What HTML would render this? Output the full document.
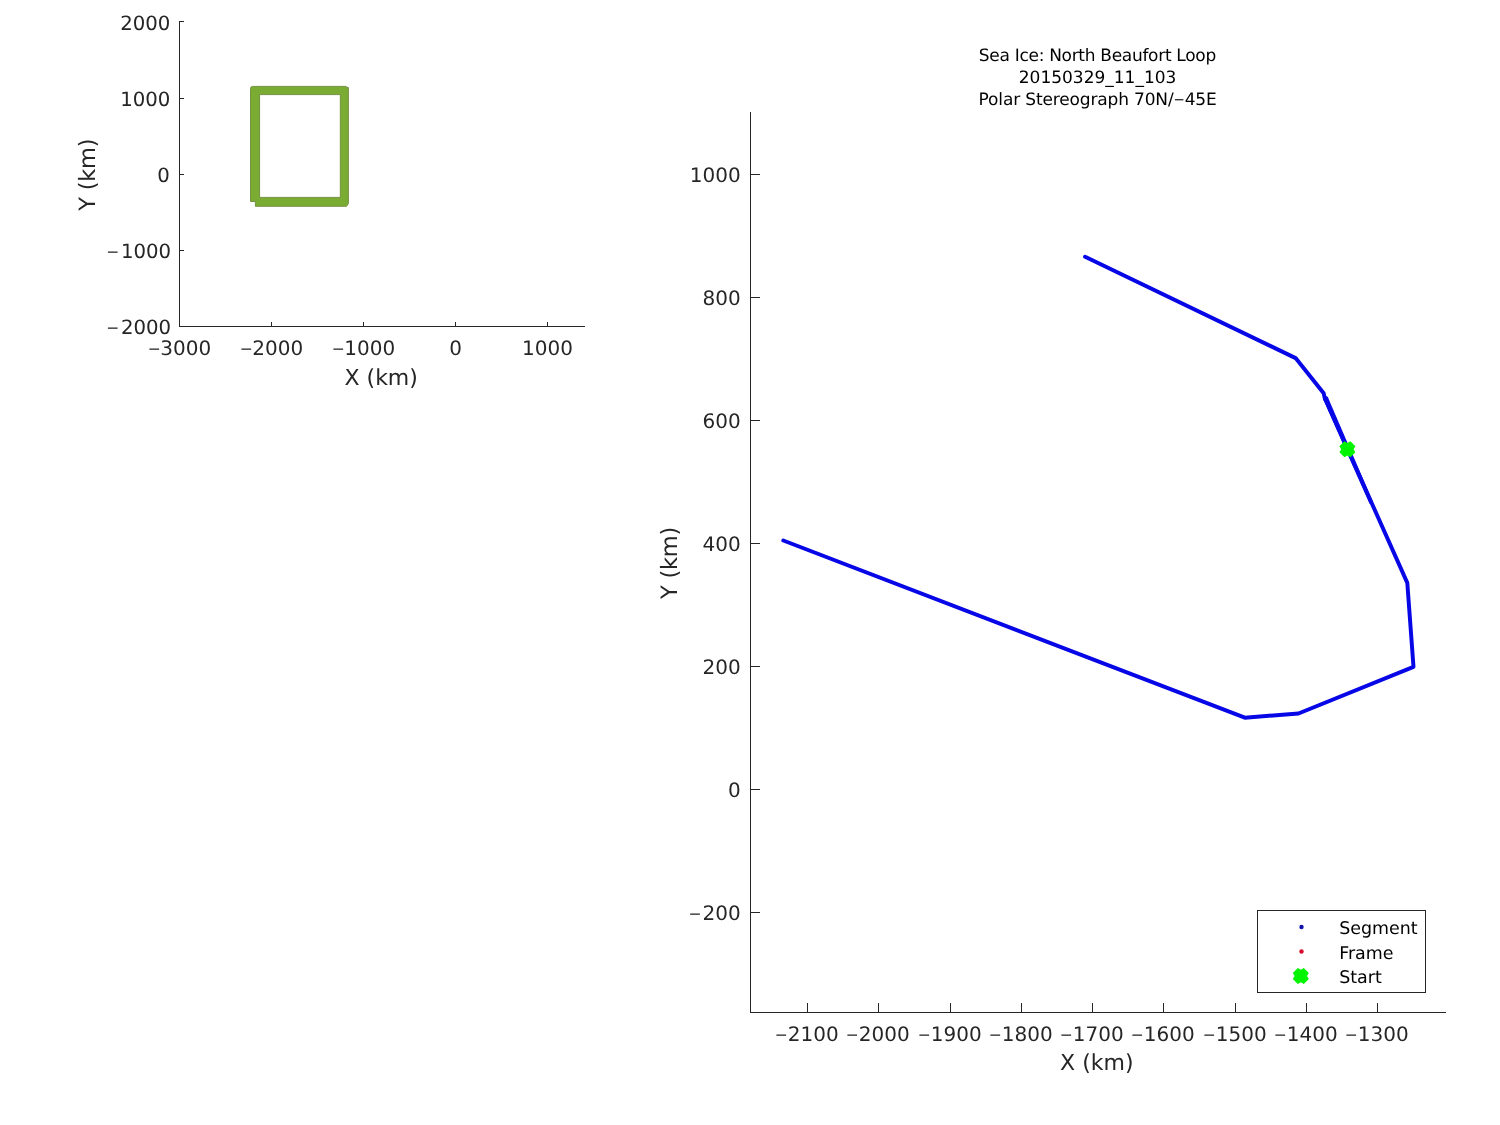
<!DOCTYPE html>
<html lang="en"><head><meta charset="utf-8"><title>Sea Ice: North Beaufort Loop</title>
<style>html,body{margin:0;padding:0;background:#fff;}body{width:1500px;height:1125px;overflow:hidden;}svg{display:block;}text{text-rendering:geometricPrecision;font-family:"DejaVu Sans","Liberation Sans",sans-serif;}.t{font-size:20px;fill:#262626;}.l{font-size:22px;fill:#262626;}.ti{font-size:17px;fill:#000;}.lg{font-size:17.45px;fill:#000;}</style></head><body>
<svg width="1500" height="1125" viewBox="0 0 1500 1125">
<rect width="1500" height="1125" fill="#fff"/>
<g stroke="#262626" stroke-width="1" fill="none" shape-rendering="crispEdges">
<path d="M179.5 21V327M179 326.5H585"/>
<path d="M179 21.5H184"/>
<path d="M179 98.5H184"/>
<path d="M179 174.5H184"/>
<path d="M179 250.5H184"/>
<path d="M179 326.5H184"/>
<path d="M179.5 327V322"/>
<path d="M271.5 327V322"/>
<path d="M363.5 327V322"/>
<path d="M455.5 327V322"/>
<path d="M547.5 327V322"/>
</g>
<g fill="#7aab33" stroke="#6e8a3a" stroke-width="0.9">
<path d="M250.5 88.5Q250.5 86.4 252.6 86.4H346.2V87.4H348.4V203.6L346.6 206.3H255.4V201.5H250.5Z M259.6 94.6V197.4H340.3V94.6Z" fill-rule="evenodd"/>
</g>
<text class="t" style="font-size:19.7px" x="170.4" y="30.0" text-anchor="end">2000</text>
<text class="t" style="font-size:19.7px" x="170.4" y="106.0" text-anchor="end">1000</text>
<text class="t" style="font-size:19.7px" x="169.7" y="182.0" text-anchor="end">0</text>
<text class="t" style="font-size:19.7px" x="171.0" y="258.0" text-anchor="end"><tspan font-size="15.5" dy="-1.4">−</tspan><tspan dx="1.6" dy="1.4">1000</tspan></text>
<text class="t" style="font-size:19.7px" x="171.0" y="334.0" text-anchor="end"><tspan font-size="15.5" dy="-1.4">−</tspan><tspan dx="1.6" dy="1.4">2000</tspan></text>
<text class="t" x="179.5" y="355" text-anchor="middle"><tspan font-size="15.5" dy="-1.4">−</tspan><tspan dx="-0.5" dy="1.4">3000</tspan></text>
<text class="t" x="271.5" y="355" text-anchor="middle"><tspan font-size="15.5" dy="-1.4">−</tspan><tspan dx="-0.5" dy="1.4">2000</tspan></text>
<text class="t" x="363.5" y="355" text-anchor="middle"><tspan font-size="15.5" dy="-1.4">−</tspan><tspan dx="-0.5" dy="1.4">1000</tspan></text>
<text class="t" x="455.5" y="355" text-anchor="middle">0</text>
<text class="t" x="547.5" y="355" text-anchor="middle">1000</text>
<text class="l" x="381.2" y="385" text-anchor="middle">X (km)</text>
<text class="l" style="font-size:22.5px" letter-spacing="-0.25" transform="translate(94.8 174.7) rotate(-90)" text-anchor="middle">Y (km)</text>
<g stroke="#262626" stroke-width="1" fill="none" shape-rendering="crispEdges">
<path d="M750.5 112V1013M750 1012.5H1446"/>
<path d="M750 174.5H760"/>
<path d="M750 297.5H760"/>
<path d="M750 420.5H760"/>
<path d="M750 543.5H760"/>
<path d="M750 666.5H760"/>
<path d="M750 789.5H760"/>
<path d="M750 912.5H760"/>
<path d="M807.5 1013V1003"/>
<path d="M878.5 1013V1003"/>
<path d="M950.5 1013V1003"/>
<path d="M1021.5 1013V1003"/>
<path d="M1092.5 1013V1003"/>
<path d="M1163.5 1013V1003"/>
<path d="M1235.5 1013V1003"/>
<path d="M1306.5 1013V1003"/>
<path d="M1377.5 1013V1003"/>
</g>
<text class="t" x="740.7" y="182" text-anchor="end">1000</text>
<text class="t" x="740.7" y="305" text-anchor="end">800</text>
<text class="t" x="740.7" y="428" text-anchor="end">600</text>
<text class="t" x="740.7" y="551" text-anchor="end">400</text>
<text class="t" x="740.7" y="674" text-anchor="end">200</text>
<text class="t" x="740.7" y="797" text-anchor="end">0</text>
<text class="t" x="740.7" y="920" text-anchor="end"><tspan font-size="15.5" dy="-1.4">−</tspan><tspan dx="1.0" dy="1.4">200</tspan></text>
<text class="t" x="806.7" y="1041" text-anchor="middle"><tspan font-size="15.5" dy="-1.4">−</tspan><tspan dx="0.2" dy="1.4">2100</tspan></text>
<text class="t" x="877.7" y="1041" text-anchor="middle"><tspan font-size="15.5" dy="-1.4">−</tspan><tspan dx="0.2" dy="1.4">2000</tspan></text>
<text class="t" x="949.7" y="1041" text-anchor="middle"><tspan font-size="15.5" dy="-1.4">−</tspan><tspan dx="0.2" dy="1.4">1900</tspan></text>
<text class="t" x="1020.7" y="1041" text-anchor="middle"><tspan font-size="15.5" dy="-1.4">−</tspan><tspan dx="0.2" dy="1.4">1800</tspan></text>
<text class="t" x="1091.7" y="1041" text-anchor="middle"><tspan font-size="15.5" dy="-1.4">−</tspan><tspan dx="0.2" dy="1.4">1700</tspan></text>
<text class="t" x="1162.7" y="1041" text-anchor="middle"><tspan font-size="15.5" dy="-1.4">−</tspan><tspan dx="0.2" dy="1.4">1600</tspan></text>
<text class="t" x="1234.7" y="1041" text-anchor="middle"><tspan font-size="15.5" dy="-1.4">−</tspan><tspan dx="0.2" dy="1.4">1500</tspan></text>
<text class="t" x="1305.7" y="1041" text-anchor="middle"><tspan font-size="15.5" dy="-1.4">−</tspan><tspan dx="0.2" dy="1.4">1400</tspan></text>
<text class="t" x="1376.7" y="1041" text-anchor="middle"><tspan font-size="15.5" dy="-1.4">−</tspan><tspan dx="0.2" dy="1.4">1300</tspan></text>
<text class="l" x="1096.8" y="1070" text-anchor="middle">X (km)</text>
<text class="l" style="font-size:22.5px" letter-spacing="-0.25" transform="translate(677.1 563) rotate(-90)" text-anchor="middle">Y (km)</text>
<text class="ti" x="1097.4" y="61" text-anchor="middle" letter-spacing="-0.3">Sea Ice: North Beaufort Loop</text>
<text class="ti" x="1097.6" y="83" text-anchor="middle">20150329_11_103</text>
<text class="ti" x="1097.6" y="105" text-anchor="middle" letter-spacing="-0.15">Polar Stereograph 70N/<tspan font-size="13.5" dy="-1.1">−</tspan><tspan dy="1.1">45E</tspan></text>
<path d="M1085.1 256.7L1295.6 358.1L1323.7 393.3L1324.6 397.5L1407.3 582.9L1413.5 666.8L1298.5 713.5L1244.8 717.7L783.3 540.5" fill="none" stroke="#0606e6" stroke-width="3.95" stroke-linecap="round" stroke-linejoin="round"/>
<path d="M1327.98 397.46L1373.04 502.24L1369.56 503.76L1323.22 399.54Z" fill="#0606e6"/><circle cx="1325.6" cy="398.5" r="2.6" fill="#0606e6"/>
<path transform="translate(1347.4 449.2)" d="M-3 -8L0 -6.2L3 -8L8 -3L6.2 0L8 3L3 8L0 6.2L-3 8L-8 3L-6.2 0L-8 -3Z" fill="#00f400"/>
<rect x="1257.5" y="910.5" width="168" height="82" fill="#fff" stroke="#262626" stroke-width="1" shape-rendering="crispEdges"/>
<circle cx="1301.5" cy="927" r="2.2" fill="#1010ac"/>
<circle cx="1301.5" cy="951.5" r="2.2" fill="#d60a2c"/>
<path transform="translate(1300.8 976)" d="M-3 -8L0 -6.2L3 -8L8 -3L6.2 0L8 3L3 8L0 6.2L-3 8L-8 3L-6.2 0L-8 -3Z" fill="#00f400"/>
<text class="lg" x="1339.2" y="934">Segment</text>
<text class="lg" x="1339.2" y="959">Frame</text>
<text class="lg" x="1339.2" y="983">Start</text>
</svg></body></html>
